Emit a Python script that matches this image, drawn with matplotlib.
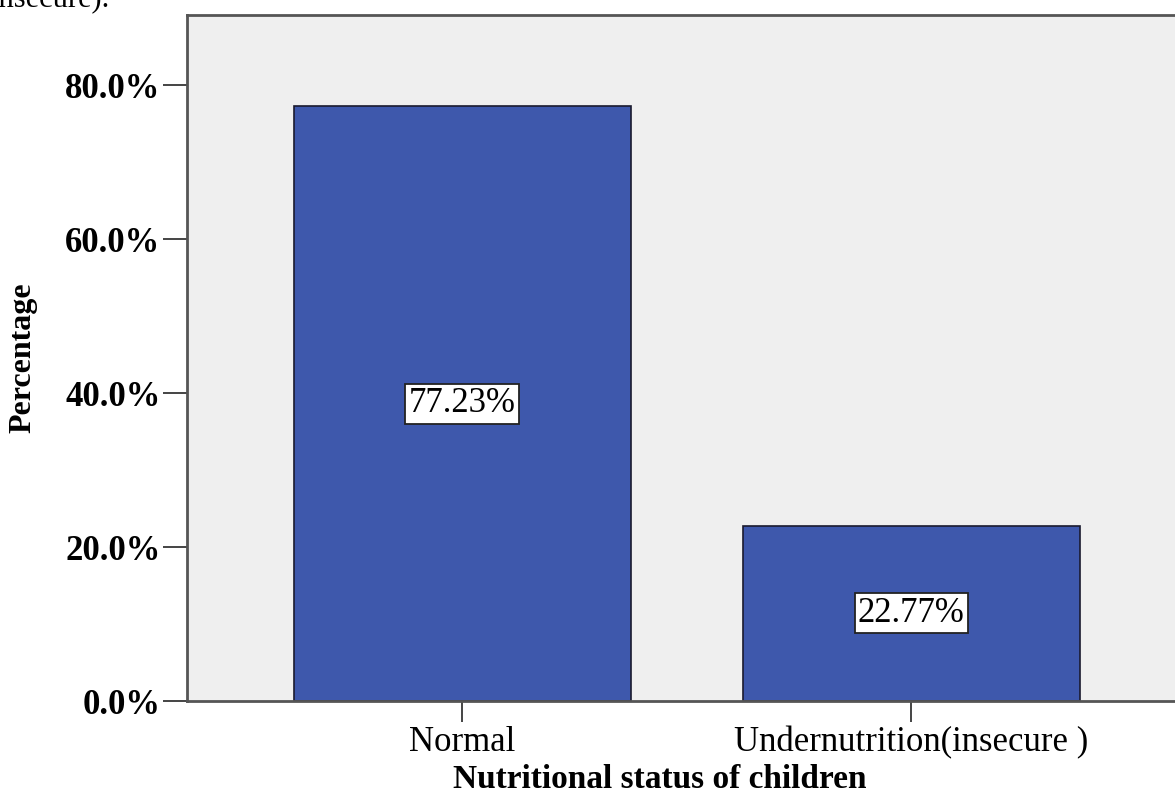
import matplotlib
matplotlib.use("Agg")
import matplotlib.pyplot as plt
from matplotlib.ticker import FuncFormatter

# nutritional status shares (%)
categories = ["Normal", "Undernutrition(insecure )"]
percentages = [77.23, 22.77]
yticks = [0, 20, 40, 60, 80]

plt.rcParams["font.family"] = ["Liberation Serif", "DejaVu Serif"]

fig = plt.figure(figsize=(11.75, 7.97), dpi=100)
ax = fig.add_axes([0.15915, 0.12045, 0.8506, 0.8607])
ax.set_facecolor("#efefef")

x = range(len(categories))
bars = ax.bar(x, percentages, width=0.75, color="#3e58ac",
              edgecolor="#1a1a2e", linewidth=1.2, zorder=2)

# value labels in white boxes at the middle of each bar
for b, v in zip(bars, percentages):
    ax.text(b.get_x() + b.get_width() / 2, v / 2, f"{v:.2f}%",
            ha="center", va="center", fontsize=25, zorder=3,
            bbox=dict(boxstyle="square,pad=0.1", facecolor="white",
                      edgecolor="#222222", linewidth=1.3))

ax.set_xlim(-0.612, 1.612)
ax.set_ylim(0, 89.1)
ax.set_xticks(list(x))
ax.set_xticklabels(categories, fontsize=25)
ax.set_yticks(yticks)
ax.yaxis.set_major_formatter(FuncFormatter(lambda v, p: f"{v:.1f}%"))
for lbl in ax.get_yticklabels():
    lbl.set_fontweight("bold")
    lbl.set_fontsize(25)

ax.tick_params(axis="y", length=17, width=1.4, color="#444444", pad=2)
ax.tick_params(axis="x", length=15, width=1.4, color="#444444", pad=3)

for side in ["left", "top", "bottom", "right"]:
    ax.spines[side].set_color("#555555")
    ax.spines[side].set_linewidth(2)

ax.set_xlabel("Nutritional status of children", fontsize=24,
              fontweight="bold")
ax.xaxis.label.set_va("center")
ax.xaxis.set_label_coords(0.473, -0.114)
ax.set_ylabel("Percentage", fontsize=23, fontweight="bold")
ax.yaxis.label.set_va("center")
ax.yaxis.set_label_coords(-0.164, 0.5)

# tail of the caption text above the chart
fig.text(110 / 1175, 1 - 6 / 797, "insecure).", ha="right", va="baseline",
         fontsize=22)

fig.savefig("out.png", dpi=100)
